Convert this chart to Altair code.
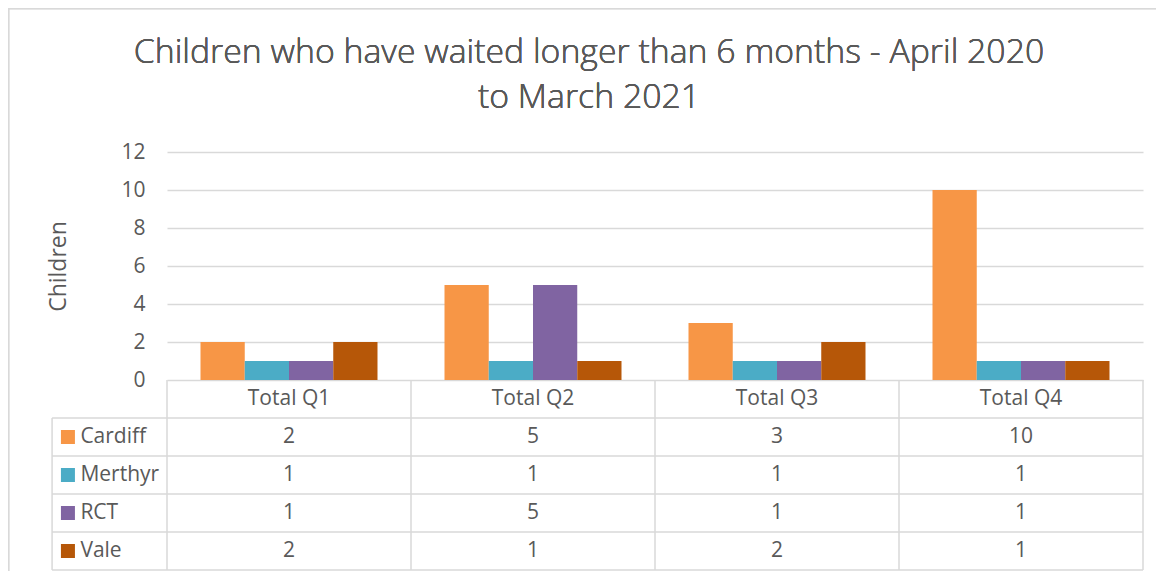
import altair as alt
import pandas as pd

# ---- data ----
quarters = ["Total Q1", "Total Q2", "Total Q3", "Total Q4"]
series = ["Cardiff", "Merthyr", "RCT", "Vale"]
cardiff = [2, 5, 3, 10]
merthyr = [1, 1, 1, 1]
rct = [1, 5, 1, 1]
vale = [2, 1, 2, 1]
colors = ["#F79646", "#4BACC6", "#8064A2", "#B65708"]
y_ticks = [0, 2, 4, 6, 8, 10, 12]
title_lines = ["Children who have waited longer than 6 months - April 2020", "to March 2021"]

values_by_series = [cardiff, merthyr, rct, vale]

# ---- layout constants ----
W, H = 976, 418
PAD = {"left": 159, "right": 13, "top": 144, "bottom": 1}
TEXT = "#595959"
GRID = "#d9d9d9"
FONT = "Open Sans"
FS = 21
LEG_LEFT = -0.471
LEG_SQ = -0.406
LEG_TXT = -0.355

bars = pd.DataFrame([
    {"quarter": q, "series": s, "value": v[i]}
    for s, v in zip(series, values_by_series)
    for i, q in enumerate(quarters)
])

# table cells (data table under the chart)
cells = []
for r, (s, v) in enumerate(zip(series, values_by_series)):
    for c, q in enumerate(quarters):
        cells.append({"xc": c + 0.5, "yc": -(2 * r + 3), "label": str(v[c])})
for c, q in enumerate(quarters):
    cells.append({"xc": c + 0.5, "yc": -1, "label": q})
cells = pd.DataFrame(cells)

legend_rows = pd.DataFrame({
    "series": series,
    "yc": [-(2 * r + 3) for r in range(len(series))],
})

hlines = pd.DataFrame({"y": [-2 * (r + 1) for r in range(len(series) + 1)]})
vlines = pd.DataFrame(
    [{"x": LEG_LEFT, "y0": -2, "y1": -2 * (len(series) + 1)}]
    + [{"x": c, "y0": 0, "y1": -2 * (len(series) + 1)} for c in range(len(quarters) + 1)]
)

yscale = alt.Scale(domain=[-2 * (len(series) + 1), 12], nice=False, zero=False)
xq = alt.Scale(domain=[0, len(quarters)], nice=False, zero=False)
color_scale = alt.Scale(domain=series, range=colors)

yaxis = alt.Axis(values=y_ticks, title="Children", grid=True, gridColor=GRID, gridWidth=1.5,
                 ticks=False, domain=False, labelFontSize=FS, labelColor=TEXT, labelFont=FONT,
                 labelPadding=22, titleFontSize=23, titleFont=FONT, titleColor=TEXT,
                 titleFontWeight="normal", titleX=-109, titleY=114, titleAngle=-90,
                 titleAlign="center", titleBaseline="middle")


def Y(field):
    return alt.Y(field, scale=yscale, axis=yaxis)


bar_layer = alt.Chart(bars).mark_bar().encode(
    x=alt.X("quarter:N", sort=quarters, axis=None,
            scale=alt.Scale(paddingInner=0.2746, paddingOuter=0.1373)),
    xOffset=alt.XOffset("series:N", sort=series, scale=alt.Scale(paddingInner=0, paddingOuter=0)),
    y=Y("value:Q"),
    y2=alt.datum(0),
    color=alt.Color("series:N", scale=color_scale, legend=None),
)

hline_layer = alt.Chart(hlines).transform_calculate(x0=str(LEG_LEFT), x1=str(len(quarters))).mark_rule(
    color=GRID, strokeWidth=1.5).encode(
    x=alt.X("x0:Q", scale=xq, axis=None), x2="x1:Q",
    y=Y("y:Q"),
)

vline_layer = alt.Chart(vlines).mark_rule(color=GRID, strokeWidth=1.5).encode(
    x=alt.X("x:Q", scale=xq, axis=None),
    y=Y("y0:Q"), y2="y1:Q",
)

cell_layer = alt.Chart(cells).mark_text(fontSize=FS, font=FONT, color=TEXT).encode(
    x=alt.X("xc:Q", scale=xq, axis=None),
    y=Y("yc:Q"),
    text="label:N",
)

legend_sq = alt.Chart(legend_rows).transform_calculate(xs=str(LEG_SQ)).mark_square(
    size=196, opacity=1, shape="square").encode(
    x=alt.X("xs:Q", scale=xq, axis=None),
    y=Y("yc:Q"),
    color=alt.Color("series:N", scale=color_scale, legend=None),
)

legend_txt = alt.Chart(legend_rows).transform_calculate(xt=str(LEG_TXT)).mark_text(
    fontSize=FS, font=FONT, color=TEXT, align="left").encode(
    x=alt.X("xt:Q", scale=xq, axis=None),
    y=Y("yc:Q"),
    text="series:N",
)

frame = alt.Chart(legend_rows).mark_rect(fill=None, stroke=GRID, strokeWidth=1.5).encode(
    x=alt.value(-PAD["left"] + 0.5), x2=alt.value(W + 40),
    y=alt.value(-PAD["top"] + 0.5), y2=alt.value(H + 40),
)

title_layers = [
    alt.Chart(legend_rows).mark_text(fontSize=33.8, font=FONT, fontWeight=300, color=TEXT,
                                      align="center", baseline="alphabetic").encode(
        x=alt.value(422), y=alt.value(yy), text=alt.value(line))
    for line, yy in zip(title_lines, [-89, -44])
]

chart = alt.layer(
    frame, vline_layer, hline_layer, bar_layer, cell_layer, legend_sq, legend_txt, *title_layers
).resolve_scale(x="independent").properties(
    width=W, height=H,
    autosize=alt.AutoSizeParams(type="none"),
    padding=PAD,
    background="white",
).configure_view(stroke=None)

chart.save("out.html", embed_options={"renderer": "svg", "actions": False})
